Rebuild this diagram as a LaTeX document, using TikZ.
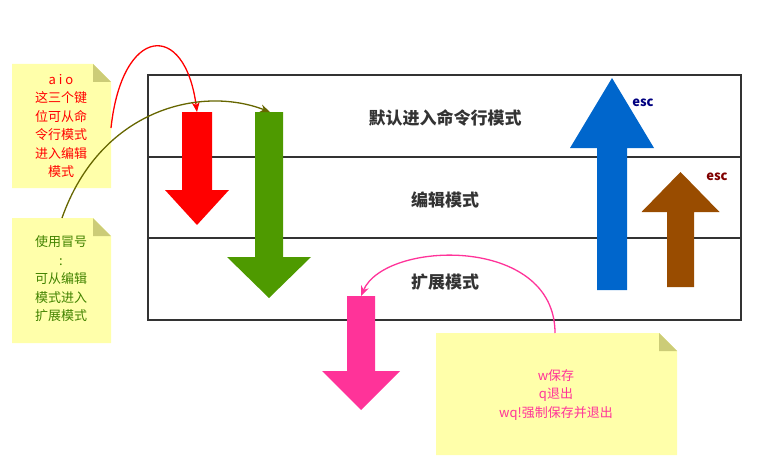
\documentclass[tikz,border=0pt]{standalone}
\usepackage{fontspec}
\setmainfont{Noto Sans CJK SC}
\usetikzlibrary{arrows.meta}
\definecolor{notey}{HTML}{FFFFAA}
\definecolor{foldc}{HTML}{CCCC77}
\definecolor{modec}{HTML}{333333}
\definecolor{greenar}{HTML}{4E9A00}
\definecolor{bluear}{HTML}{0066CC}
\definecolor{brownar}{HTML}{994C00}
\definecolor{pinkar}{HTML}{FF3399}
\definecolor{olivec}{HTML}{666600}
% block arrow: x-left, x-right of shaft, start y, head y, head half width, tip y
\newcommand\blockarrow[7]{%
\fill[#1] (#2,#4) -- (#3,#4) -- (#3,#5) -- ({(#2+#3)/2+#6},#5) -- ({(#2+#3)/2},#7) -- ({(#2+#3)/2-#6},#5) -- (#2,#5) -- cycle;}
\newcommand\notebox[4]{%
\fill[notey] (#1,#2) -- (#3-18,#2) -- (#3,#2+18) -- (#3,#4) -- (#1,#4) -- cycle;
\fill[foldc] (#3-18,#2) -- (#3,#2+18) -- (#3-18,#2+18) -- cycle;}
\tikzset{
  mode/.style={text=modec,font=\bfseries\fontsize{17}{20}\selectfont},
  notetext/.style={align=center,font=\fontsize{13}{18.5}\selectfont},
  esclabel/.style={font=\bfseries\fontsize{13}{14}\selectfont},
  curve/.style={line width=1.3pt,-{Stealth[length=10pt,width=8pt]}}
}
\begin{document}
\begin{tikzpicture}[x=1pt,y=-1pt]
\useasboundingbox (0,0) rectangle (767,468);
% Drawing the mode table
\draw[modec,line width=1.6pt] (148,75) rectangle (741,320);
\draw[modec,line width=1.6pt] (148,157) -- (741,157);
\draw[modec,line width=1.6pt] (148,238) -- (741,238);
\node[mode] (cmd) at (445,118) {默认进入命令行模式};
\node[mode] (edit) at (445,200) {编辑模式};
\node[mode] (ext) at (445,282) {扩展模式};
% Block arrows
\blockarrow{red}{182}{212}{112}{190}{32}{225}
\blockarrow{greenar}{255}{283}{112}{257}{42}{298}
\blockarrow{bluear}{597}{627}{290}{148}{42}{78}
\blockarrow{brownar}{667}{694}{287}{212}{39}{172}
\blockarrow{pinkar}{347}{375}{296}{371}{39}{410}
\node[esclabel,text=blue!50!black] (esca) at (643,103) {esc};
\node[esclabel,text=red!50!black] (escb) at (717,177) {esc};
% Notes
\notebox{12}{64}{111}{188}
\notebox{12}{218}{111}{343}
\notebox{436}{333}{677}{455}
\node[notetext,text=red] (aio) at (61,126) {a i o\\这三个键\\位可从命\\令行模式\\进入编辑\\模式};
\node[notetext,text=greenar!85!black] (colon) at (61,279) {使用冒号\\:\\可从编辑\\模式进入\\扩展模式};
\node[notetext,text=pinkar] (save) at (556,395) {w保存\\q退出\\wq!强制保存并退出};
\coordinate (aioside) at (111,128);
\coordinate (colontop) at (62,218);
\coordinate (savetop) at (555,333);
\coordinate (redtop) at (197,112);
\coordinate (greentop) at (270,112);
\coordinate (pinktop) at (361,296);
% Curved connectors
\draw[curve,red] (aioside) .. controls (122,25) and (185,20) .. (redtop);
\draw[curve,olivec] (colontop) .. controls (100,110) and (200,85) .. (greentop);
\draw[curve,pinkar] (savetop) .. controls (555,235) and (385,240) .. (pinktop);
\end{tikzpicture}
\end{document}
